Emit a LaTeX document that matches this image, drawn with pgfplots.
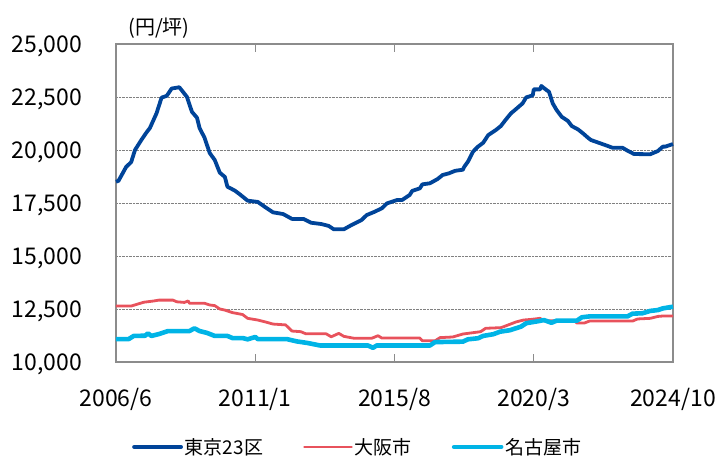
\documentclass[border=0pt]{standalone}
\usepackage{pgfplots}
\pgfplotsset{compat=1.18}
\usepackage{fontspec}
\setmainfont{Noto Sans CJK JP}
\definecolor{tokyo}{RGB}{0,68,153}
\definecolor{osaka}{RGB}{232,82,92}
\definecolor{nagoya}{RGB}{0,180,230}
\definecolor{axgray}{RGB}{140,140,140}
\begin{document}
\begin{tikzpicture}
\path[use as bounding box] (-116pt,-97pt) rectangle (606pt,362pt);
\begin{axis}[
  at={(0pt,0pt)}, anchor=origin,
  scale only axis, width=557pt, height=318pt,
  xmin=0, xmax=220, ymin=10000, ymax=25000,
  scaled y ticks=false, scaled x ticks=false,
  xtick={0,55,110,165,220},
  xticklabels={2006/6,2011/1,2015/8,2020/3,2024/10},
  ytick={10000,12500,15000,17500,20000,22500,25000},
  yticklabels={{10,000},{12,500},{15,000},{17,500},{20,000},{22,500},{25,000}},
  tick align=inside, major tick length=8pt,
  xtick style={axgray, line width=0.8pt},
  ytick style={draw=none},
  ymajorgrids, grid style={densely dotted, gray, line width=0.6pt},
  axis line style={axgray, line width=1.2pt},
  tick label style={font=\fontsize{23}{27}\selectfont, text=black, inner sep=0pt},
  yticklabel style={anchor=base east, xshift=-34pt, yshift=-8pt},
  xticklabel style={anchor=base, yshift=-44pt},
  legend columns=3,
  legend style={draw=none, fill=none, at={(axis description cs:0.0287,-0.267)}, anchor=west,
    font=\fontsize{19}{22}\selectfont, inner sep=0pt,
    /tikz/every even column/.append style={column sep=38pt}},
  legend image code/.code={\draw[#1, line cap=round] (0pt,0pt) -- (47pt,0pt);},
  legend cell align=left,
  clip=false,
]
\addplot[tokyo, line width=3.8pt, line join=round] coordinates {
(0,18500)(1,18550)(4,19200)(6,19430)(7.5,20000)(10,20470)(12,20820)(13.4,21040)(16,21730)(18,22470)(20,22550)(22,22900)(25,22960)(28,22510)(30,21800)(32,21520)(33,21040)(35,20570)(37,19860)(39,19530)(41,18930)(43,18730)(44,18270)(47,18080)(49,17900)(52,17610)(56,17550)(59,17300)(62,17060)(66,16980)(69.5,16750)(74,16750)(77,16570)(81,16510)(84,16420)(86,16260)(90,16260)(93,16460)(97,16700)(99,16930)(102,17080)(105,17250)(107,17480)(111,17640)(113,17640)(116,17880)(117,18070)(120,18190)(121,18380)(124,18430)(127,18630)(129,18820)(131.5,18900)(134,19020)(137,19070)(137.5,19200)(139,19450)(141,19920)(143,20160)(145,20340)(147,20700)(150,20940)(152,21130)(154,21440)(156,21730)(157.6,21890)(160.6,22200)(162,22480)(164.6,22580)(165,22860)(167.5,22860)(168,23020)(170,22830)(171,22750)(172.5,22200)(174,21890)(176,21570)(178.5,21370)(180,21130)(182.5,20970)(184.5,20780)(186.5,20570)(187.6,20470)(190.7,20340)(194,20200)(196,20110)(200,20110)(202,19970)(204.6,19810)(211,19800)(214,19950)(216,20160)(217,20160)(220,20280)
};
\addlegendentry{東京23区}
\addplot[osaka, line width=2.8pt, line join=round] coordinates {
(0,12640)(6,12640)(11,12820)(15,12880)(17,12920)(22.5,12920)(24,12840)(27,12810)(28.5,12880)(29,12770)(35,12770)(37,12690)(39,12660)(41,12500)(43,12450)(46,12330)(50,12240)(52,12060)(56,11980)(59,11890)(62,11790)(67,11750)(69.5,11460)(73,11430)(75,11330)(83,11330)(85,11190)(88,11350)(90,11210)(94,11120)(101,11120)(103.5,11240)(105,11130)(120,11130)(121,11000)(126,11000)(128,11150)(133,11180)(137,11320)(144,11430)(146,11590)(152,11620)(153,11660)(158,11890)(161,11980)(164,12010)(167.5,12060)(168.6,11950)(181,11950)(182,11840)(185,11840)(187,11930)(204,11930)(206,12030)(211,12060)(214,12150)(216,12170)(220,12170)
};
\addlegendentry{大阪市}
\addplot[nagoya, line width=4.6pt, line join=round] coordinates {
(0,11080)(5,11080)(7,11230)(11.5,11240)(12.6,11350)(14,11230)(17,11320)(20.5,11460)(29,11460)(31,11590)(33,11460)(36,11370)(39,11230)(44,11230)(46,11130)(50,11130)(52,11070)(55,11180)(56,11080)(67.5,11080)(71.5,10970)(75.5,10900)(80.6,10780)(99.5,10780)(101.5,10670)(103,10780)(124,10780)(126,10940)(137,10960)(139,11070)(143,11120)(145,11230)(149,11310)(151.7,11430)(155.6,11500)(160,11670)(162,11830)(167,11930)(169,11980)(172,11850)(174,11950)(182,11950)(184,12110)(187,12150)(202,12150)(204,12280)(208,12300)(211,12410)(214,12450)(216,12530)(220,12610)
};
\addlegendentry{名古屋市}
\end{axis}
\node[font=\fontsize{20}{24}\selectfont, inner sep=0pt] at (43pt,334pt) {(円/坪)};
\end{tikzpicture}
\end{document}
